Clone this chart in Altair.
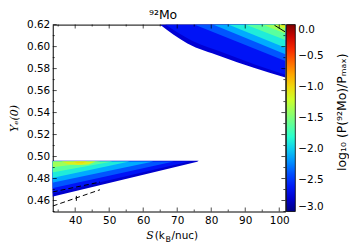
import altair as alt
import pandas as pd

# ---------------- data ----------------
S_MIN, S_MAX = 33.4, 101.8
YE_MIN, YE_MAX = 0.45, 0.62

# jet colour map stops for log10(P/Pmax) in [-3, 0]
jet_domain = [-3.0, -2.7, -2.4, -2.1, -1.8, -1.5, -1.2, -0.9, -0.6, -0.3, 0.0]
jet_colors = ["#000080", "#0000f3", "#004dff", "#00b3ff", "#29ffce", "#7bff7b",
              "#ceff29", "#ffc600", "#ff6800", "#f30900", "#800000"]

# upper-right region: lower edge of each contour band (band reaches up to Ye = 0.62)
upper_value = [-2.78, -2.625, -2.375, -2.125, -1.875, -1.625, -1.375, -1.125]
upper_S = [
    [64.9, 73.0, 82.7, 92.5, 101.8],
    [66.5, 74.5, 84.0, 93.0, 101.8],
    [75.0, 101.8],
    [80.5, 101.8],
    [85.0, 101.8],
    [90.0, 101.8],
    [95.0, 101.8],
    [98.5, 101.8],
]
upper_Ye = [
    [0.6200, 0.6028, 0.5913, 0.5808, 0.5718],
    [0.6200, 0.6050, 0.5940, 0.5835, 0.5745],
    [0.6200, 0.5870],
    [0.6200, 0.5930],
    [0.6200, 0.5990],
    [0.6200, 0.6060],
    [0.6200, 0.6120],
    [0.6200, 0.6165],
]
upper_top = [0.62, 0.62, 0.62, 0.62, 0.62, 0.62, 0.62, 0.62]

# lower-left region: lower edge and upper edge of each contour band
lower_value = [-2.8, -2.625, -2.375, -2.125, -1.875, -1.625, -1.375, -1.125, -1.0]
lower_S = [
    [33.0, 75.9, 76.3],
    [33.0, 73.5],
    [33.0, 69.0],
    [33.0, 63.0],
    [33.0, 56.0],
    [33.0, 51.0],
    [33.0, 47.5],
    [36.0, 38.0, 41.0, 44.0, 46.0],
    [39.5, 40.5, 42.0, 43.5],
]
lower_Ye = [
    [0.4633, 0.4953, 0.4962],
    [0.4662, 0.4955],
    [0.4710, 0.4955],
    [0.4760, 0.4955],
    [0.4803, 0.4955],
    [0.4853, 0.4955],
    [0.4903, 0.4955],
    [0.4955, 0.4930, 0.4922, 0.4928, 0.4955],
    [0.4955, 0.4940, 0.4937, 0.4955],
]
lower_top = [0.4962, 0.4955, 0.4955, 0.4955, 0.4955, 0.4955, 0.4955, 0.4955, 0.4955]

# dashed contour lines (lower left)
dash_S = [[33.4, 47.3], [33.4, 47.3], [40.35, 40.35]]
dash_Ye = [[0.4678, 0.4768], [0.4550, 0.4698], [0.4597, 0.4645]]

# solid contour line (upper right corner)
solid_S = [98.6, 101.75]
solid_Ye = [0.6194, 0.6134]

# axis ticks
x_major = [40, 50, 60, 70, 80, 90, 100]
x_minor = [35, 45, 55, 65, 75, 85, 95]
y_major = [0.46, 0.48, 0.50, 0.52, 0.54, 0.56, 0.58, 0.60, 0.62]
y_minor = [0.45, 0.47, 0.49, 0.51, 0.53, 0.55, 0.57, 0.59, 0.61]
cbar_ticks = [0.0, -0.5, -1.0, -1.5, -2.0, -2.5, -3.0]

W, H = 234, 188
FONT = "DejaVu Sans"

# ---------------- encodings ----------------
x_enc = alt.X("S:Q", scale=alt.Scale(domain=[S_MIN, S_MAX], nice=False, zero=False),
              axis=alt.Axis(values=x_major, format="d", title=None, labelPadding=4,
                            labelFontSize=10.5, labelFont=FONT, labelColor="black"))
y_enc = alt.Y("Ye:Q", scale=alt.Scale(domain=[YE_MIN, YE_MAX], nice=False, zero=False),
              axis=alt.Axis(values=y_major, format=".2f", title="Yₑ(0)",
                            titleFont="DejaVu Serif", titleFontStyle="italic",
                            titleFontWeight="normal", titleFontSize=11, titlePadding=7,
                            titleColor="black", labelPadding=3, labelFontSize=10.5,
                            labelFont=FONT, labelColor="black"))
color_enc = alt.Color(
    "v:Q",
    scale=alt.Scale(domain=jet_domain, range=jet_colors, interpolate="rgb"),
    legend=alt.Legend(
        title=None,
        values=cbar_ticks, format=".1f", labelFont=FONT, labelFontSize=10.5,
        labelColor="black", labelOffset=3, labelOverlap=False,
        gradientLength=H, gradientThickness=9, gradientStrokeColor="black",
        gradientStrokeWidth=0.8, offset=1, padding=0, direction="vertical",
    ),
)

layers = []


def band_layer(s_list, ye_list, top, value, interp):
    df = pd.DataFrame({"S": s_list, "Ye": ye_list, "Ye2": [top] * len(s_list),
                       "v": [value] * len(s_list)})
    return alt.Chart(df).mark_area(clip=True, interpolate=interp).encode(
        x=x_enc, y=y_enc, y2="Ye2:Q", color=color_enc)


for s_l, y_l, top, val in zip(upper_S, upper_Ye, upper_top, upper_value):
    layers.append(band_layer(s_l, y_l, top, val, "monotone"))
for s_l, y_l, top, val in zip(lower_S, lower_Ye, lower_top, lower_value):
    layers.append(band_layer(s_l, y_l, top, val, "linear"))

# dashed lines
for s_l, y_l in zip(dash_S, dash_Ye):
    df = pd.DataFrame({"S": s_l, "Ye": y_l})
    layers.append(alt.Chart(df).mark_line(color="black", strokeWidth=1,
                                          strokeDash=[5, 3], clip=True)
                  .encode(x=x_enc, y=y_enc))

# solid line
layers.append(alt.Chart(pd.DataFrame({"S": solid_S, "Ye": solid_Ye}))
              .mark_line(color="black", strokeWidth=1, clip=True)
              .encode(x=x_enc, y=y_enc))

# inward ticks
for vals, ln in ((x_major, 4), (x_minor, 2)):
    df = pd.DataFrame({"S": vals})
    for ypos in (ln / 2, H - ln / 2):
        layers.append(alt.Chart(df).mark_tick(color="black", thickness=1, size=ln)
                      .encode(x=x_enc, y=alt.value(ypos)))
for vals, ln in ((y_major, 4), (y_minor, 2)):
    df = pd.DataFrame({"Ye": vals})
    for xpos in (ln / 2, W - ln / 2):
        layers.append(alt.Chart(df).mark_tick(color="black", thickness=1, size=ln)
                      .encode(y=y_enc, x=alt.value(xpos)))

# x-axis title  S (k_B/nuc)
xt_text = ["S", "(k", "B", "/nuc)"]
xt_x = [94, 102.5, 113.5, 119.5]
xt_dy = [0, 0, 3, 0]
xt_size = [11, 10.5, 8, 10.5]
xt_font = ["DejaVu Serif", FONT, FONT, FONT]
xt_style = ["italic", "normal", "normal", "normal"]
for t, xp, dy, fs, fnt, st in zip(xt_text, xt_x, xt_dy, xt_size, xt_font, xt_style):
    layers.append(alt.Chart(pd.DataFrame({"t": [t]})).mark_text(
        align="left", baseline="alphabetic", fontSize=fs, font=fnt, fontStyle=st,
        color="black", dy=dy).encode(x=alt.value(xp), y=alt.value(H + 28), text="t:N"))

# chart title
layers.append(alt.Chart(pd.DataFrame({"t": ["⁹²Mo"]})).mark_text(
    align="center", baseline="alphabetic", fontSize=12.5, font=FONT,
    color="black").encode(x=alt.value(111), y=alt.value(-6), text="t:N"))

# colour-bar title, rotated
layers.append(alt.Chart(pd.DataFrame({"t": ["log₁₀ (P(⁹²Mo)/Pₘₐₓ)"]})).mark_text(
    align="center", baseline="middle", angle=270, fontSize=12.5, font=FONT,
    color="black").encode(x=alt.value(W + 57), y=alt.value(H / 2 - 6), text="t:N"))

chart = alt.layer(*layers).properties(
    width=W, height=H,
    autosize=alt.AutoSizeParams(type="none"),
    padding={"left": 45, "top": 16, "right": 64, "bottom": 38},
).configure_view(stroke="black", strokeWidth=1).configure_axis(
    domain=False, ticks=False, grid=False)

chart.save("out.html", embed_options={"renderer": "svg", "actions": False})
